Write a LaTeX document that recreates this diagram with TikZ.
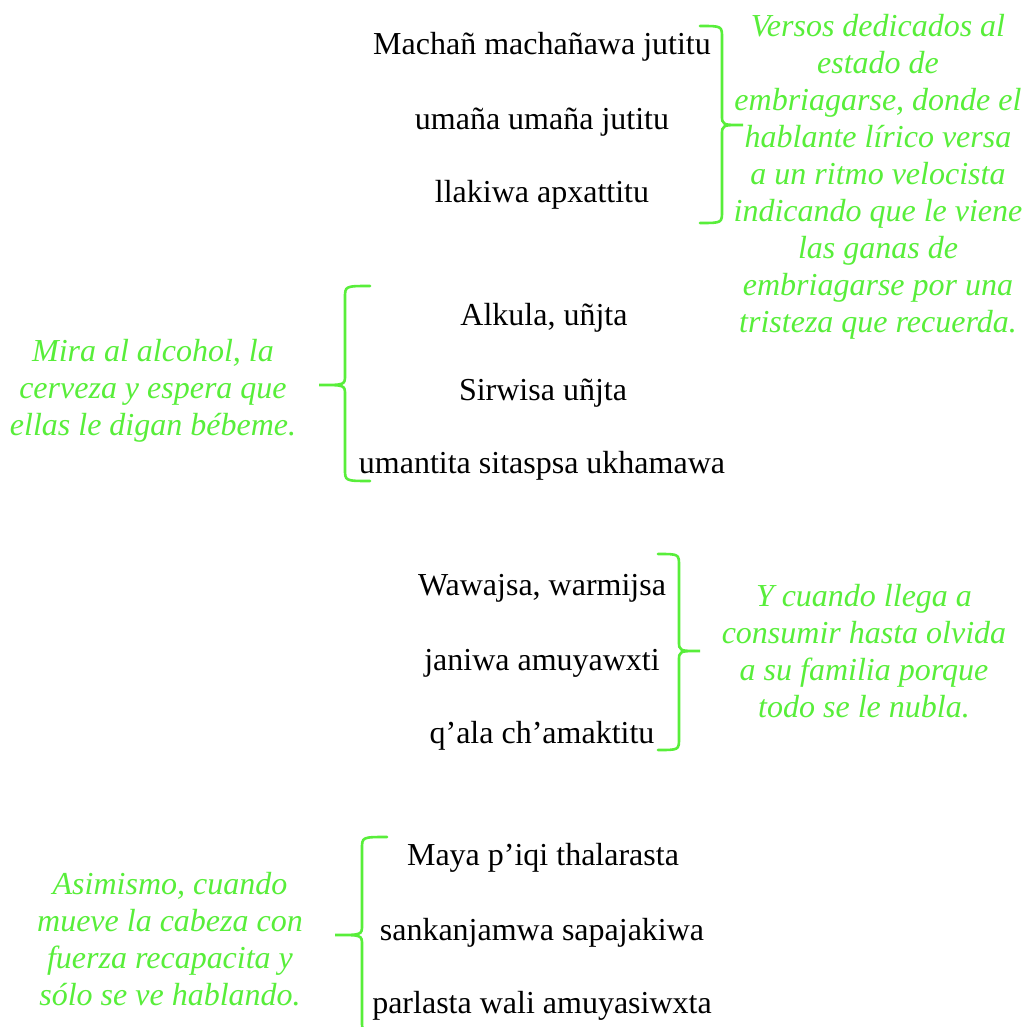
\documentclass[tikz,border=0pt]{standalone}
\usepackage{fontspec}
\setmainfont{Liberation Serif}
\definecolor{lgreen}{RGB}{88,238,58}
\newcommand\mybrace[6]{%
  \draw[bracestyle] (#1,#4) .. controls (#2,#4) .. (#2,#4+12) -- (#2,#5-10)
    .. controls (#2,#5) .. (#3,#5) .. controls (#2,#5) .. (#2,#5+10)
    -- (#2,#6-12) .. controls (#2,#6) .. (#1,#6);}
\begin{document}
\begin{tikzpicture}[x=1pt,y=-1pt,
  verse/.style={font=\fontsize{32}{37}\selectfont, inner sep=0pt, anchor=base},
  note/.style={font=\fontsize{32}{37}\selectfont\itshape, text=lgreen, align=center, inner sep=0pt, anchor=base},
  bracestyle/.style={draw=lgreen, line width=2.6pt, line cap=round}]
\path[use as bounding box, fill=white] (0,0) rectangle (1034,1027);

% group 1
\node[verse] (v11) at (542,55) {Machañ machañawa jutitu};
\node[verse] (v12) at (542,130) {umaña umaña jutitu};
\node[verse] (v13) at (542,203) {llakiwa apxattitu};
\mybrace{700}{722}{743}{26}{125}{223}
\node[note] (n1) at (878,332) {Versos dedicados al\\estado de\\embriagarse, donde el\\hablante lírico versa\\a un ritmo velocista\\indicando que le viene\\las ganas de\\embriagarse por una\\tristeza que recuerda.};

% group 2
\node[verse] (v21) at (544,326) {Alkula, uñjta};
\node[verse] (v22) at (543,400) {Sirwisa uñjta};
\node[verse] (v23) at (542,473) {umantita sitaspsa ukhamawa};
\mybrace{370}{345}{319}{286}{385}{481}
\node[note] (n2) at (153,435) {Mira al alcohol, la\\cerveza y espera que\\ellas le digan bébeme.};

% group 3
\node[verse] (v31) at (542,595) {Wawajsa, warmijsa};
\node[verse] (v32) at (542,670) {janiwa amuyawxti};
\node[verse] (v33) at (542,743) {q’ala ch’amaktitu};
\mybrace{658}{679}{700}{554}{651}{750}
\node[note] (n3) at (864,717) {Y cuando llega a\\consumir hasta olvida\\a su familia porque\\todo se le nubla.};

% group 4
\node[verse] (v41) at (543,865) {Maya p’iqi thalarasta};
\node[verse] (v42) at (542,940) {sankanjamwa sapajakiwa};
\node[verse] (v43) at (542,1013) {parlasta wali amuyasiwxta};
\mybrace{387}{362}{335}{837}{935}{1033}
\node[note] (n4) at (170,1005) {Asimismo, cuando\\mueve la cabeza con\\fuerza recapacita y\\sólo se ve hablando.};
\end{tikzpicture}
\end{document}
